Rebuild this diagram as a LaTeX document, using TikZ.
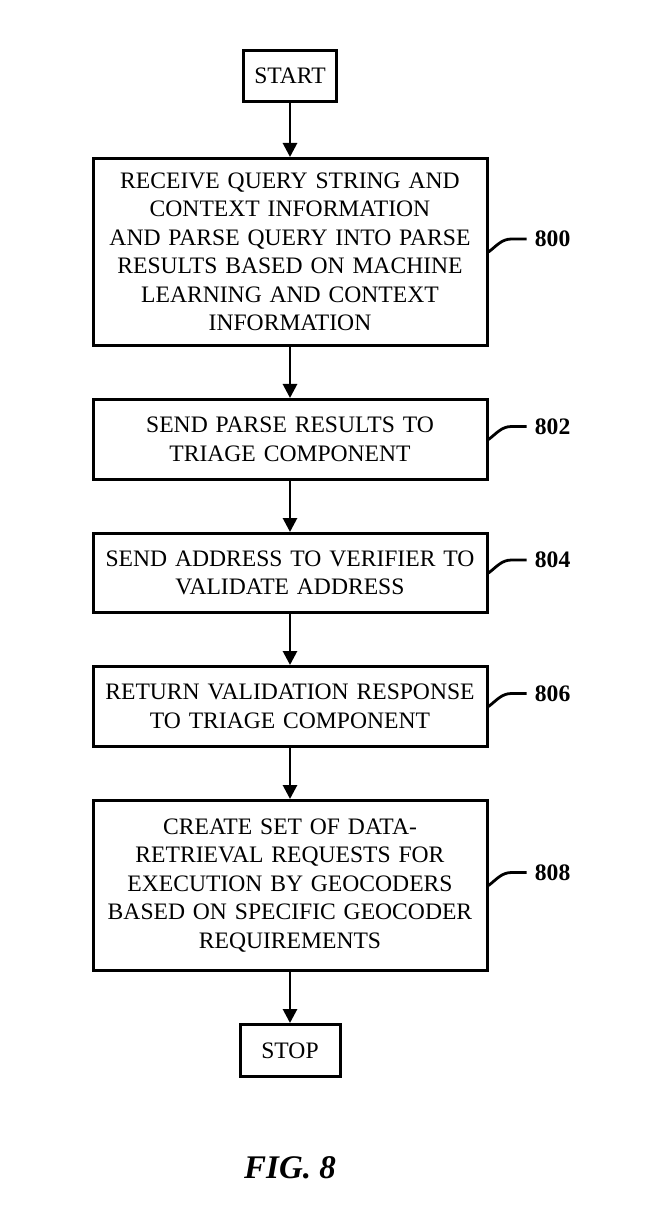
\documentclass[tikz,border=0pt]{standalone}
\usepackage{fontspec}
\setmainfont{Liberation Serif}
\usetikzlibrary{arrows.meta,positioning,calc}

\begin{document}
\begin{tikzpicture}[
    node distance=25.5pt,
    stepbox/.style={rectangle, draw, line width=1.5pt, text width=190pt, align=center, inner sep=3.5pt, font=\fontsize{11.8}{14.25}\selectfont},
    endbox/.style={rectangle, draw, line width=1.5pt, minimum height=25.5pt, align=center, font=\fontsize{11.8}{14.25}\selectfont},
    reflabel/.style={anchor=west, inner sep=4pt, font=\bfseries\fontsize{11.8}{14}\selectfont},
    arrow/.style={-{Triangle[length=7pt,width=7pt]}, line width=1.4pt},
    leader/.style={line width=1.4pt}
]
\useasboundingbox (0,0) rectangle (331pt,-612pt);

\node[endbox, minimum width=46.5pt] (start) at (145pt,-38pt) {START};
\node[stepbox, minimum height=93.5pt, below=27pt of start] (b800) {RECEIVE QUERY STRING AND\\CONTEXT INFORMATION\\AND PARSE QUERY INTO PARSE\\RESULTS BASED ON MACHINE\\LEARNING AND CONTEXT\\INFORMATION};
\node[stepbox, minimum height=40pt, below=of b800] (b802) {SEND PARSE RESULTS TO\\TRIAGE COMPONENT};
\node[stepbox, minimum height=39.5pt, below=of b802] (b804) {SEND ADDRESS TO VERIFIER TO\\VALIDATE ADDRESS};
\node[stepbox, minimum height=40pt, below=of b804] (b806) {RETURN VALIDATION RESPONSE\\TO TRIAGE COMPONENT};
\node[stepbox, minimum height=85pt, below=of b806] (b808) {CREATE SET OF DATA-\\RETRIEVAL REQUESTS FOR\\EXECUTION BY GEOCODERS\\BASED ON SPECIFIC GEOCODER\\REQUIREMENTS};
\node[endbox, minimum width=50pt, minimum height=26pt, below=of b808] (stop) {STOP};

% reference numerals
\node[reflabel] (l800) at ($(b800.east)+(19pt,6.5pt)$) {800};
\node[reflabel] (l802) at ($(b802.east)+(19pt,6.5pt)$) {802};
\node[reflabel] (l804) at ($(b804.east)+(19pt,6.5pt)$) {804};
\node[reflabel] (l806) at ($(b806.east)+(19pt,6.5pt)$) {806};
\node[reflabel] (l808) at ($(b808.east)+(19pt,6.5pt)$) {808};

\node[font=\bfseries\itshape\fontsize{16.5}{18}\selectfont] (fig) at (145pt,-584pt) {FIG. 8};

\draw[arrow] (start) -- (b800);
\draw[arrow] (b800) -- (b802);
\draw[arrow] (b802) -- (b804);
\draw[arrow] (b804) -- (b806);
\draw[arrow] (b806) -- (b808);
\draw[arrow] (b808) -- (stop);

\draw[leader] (b800.east) .. controls +(4pt,3pt) and +(-5pt,0pt) .. ($(l800.west)+(-7.5pt,0)$) -- (l800.west);
\draw[leader] (b802.east) .. controls +(4pt,3pt) and +(-5pt,0pt) .. ($(l802.west)+(-7.5pt,0)$) -- (l802.west);
\draw[leader] (b804.east) .. controls +(4pt,3pt) and +(-5pt,0pt) .. ($(l804.west)+(-7.5pt,0)$) -- (l804.west);
\draw[leader] (b806.east) .. controls +(4pt,3pt) and +(-5pt,0pt) .. ($(l806.west)+(-7.5pt,0)$) -- (l806.west);
\draw[leader] (b808.east) .. controls +(4pt,3pt) and +(-5pt,0pt) .. ($(l808.west)+(-7.5pt,0)$) -- (l808.west);

\end{tikzpicture}
\end{document}
